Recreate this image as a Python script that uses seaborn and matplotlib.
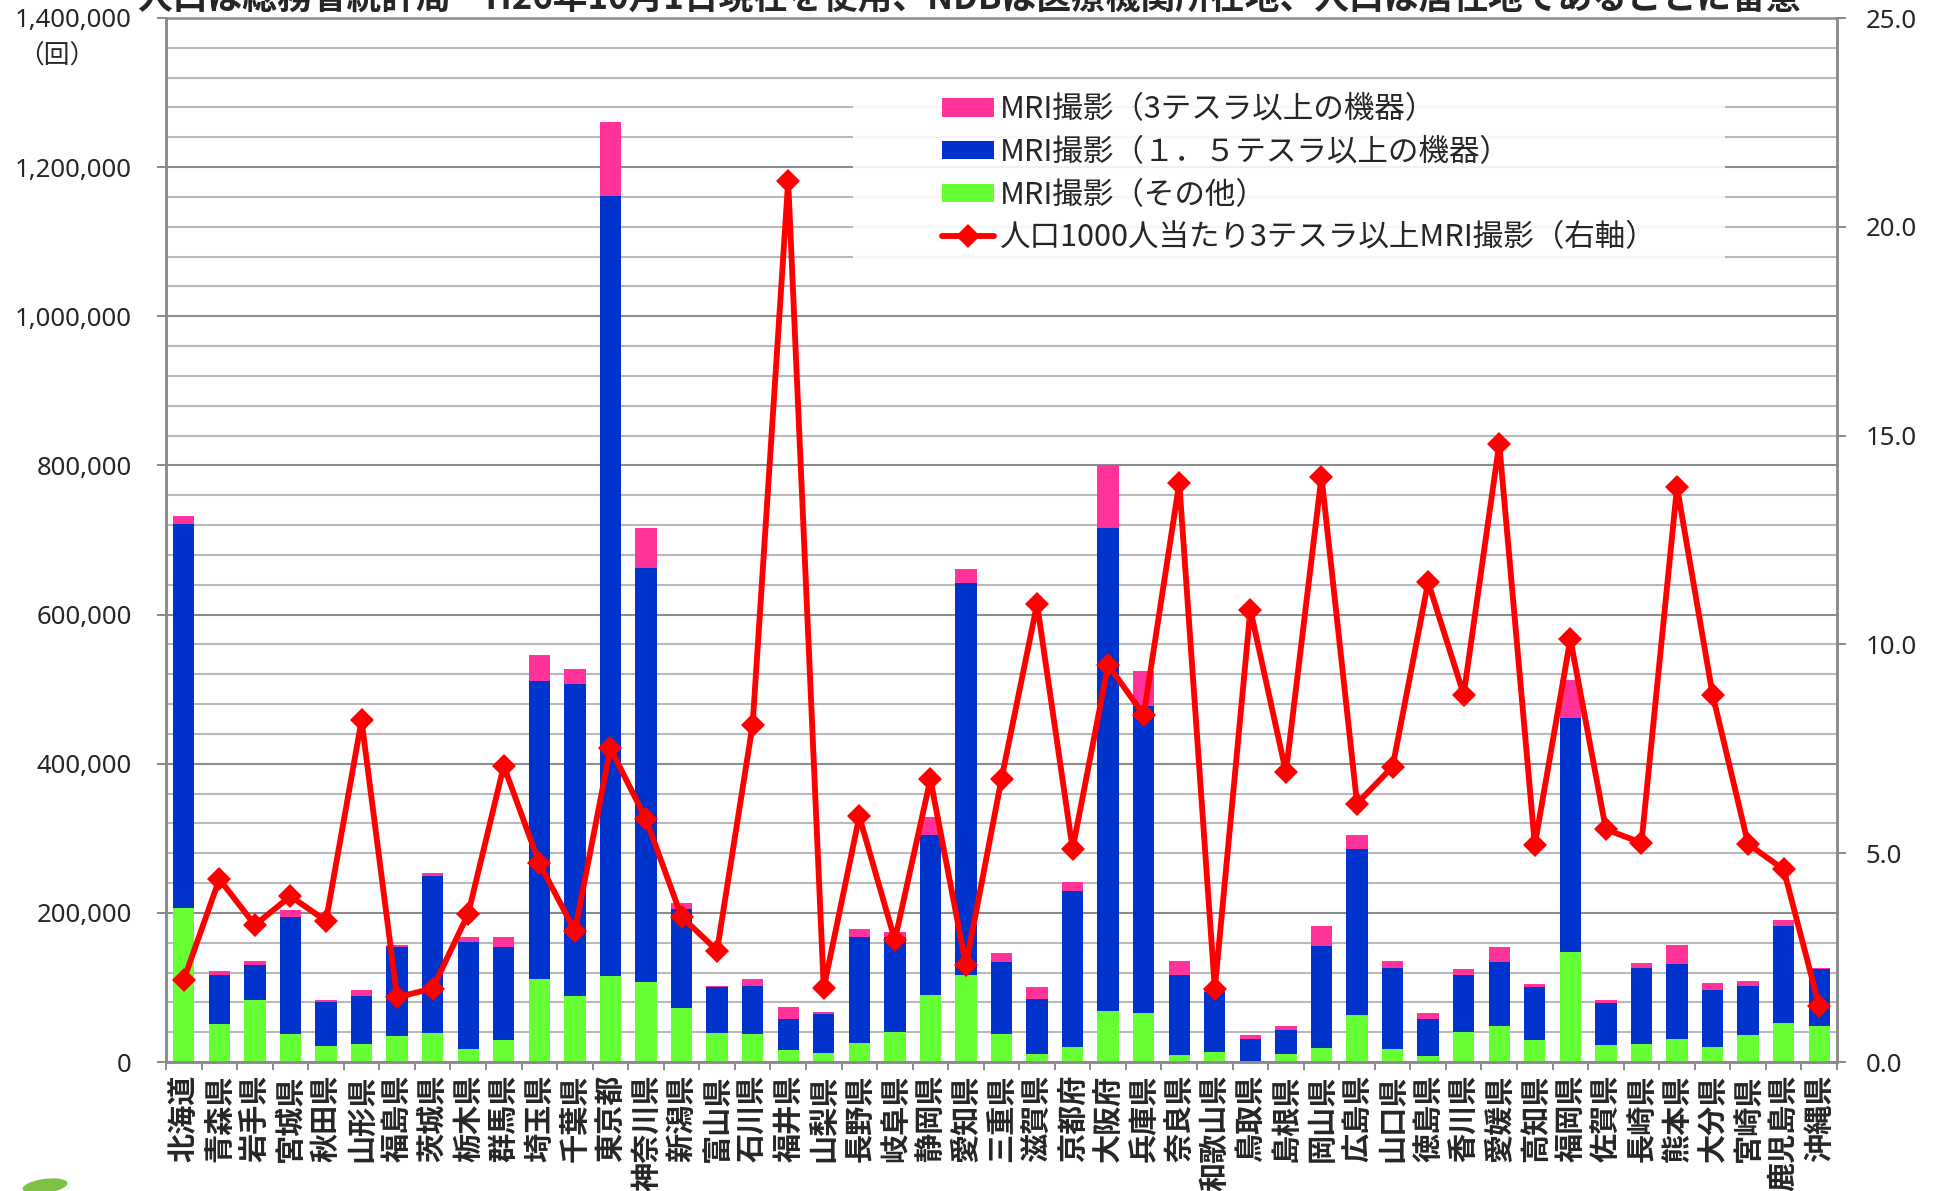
import numpy as np
import pandas as pd
import matplotlib
matplotlib.use("Agg")
import matplotlib.pyplot as plt
import seaborn as sns
from matplotlib.ticker import FuncFormatter, MultipleLocator
from matplotlib.patches import Rectangle, Ellipse, Patch
from matplotlib.lines import Line2D

prefectures = ["北海道", "青森県", "岩手県", "宮城県", "秋田県", "山形県", "福島県", "茨城県",
               "栃木県", "群馬県", "埼玉県", "千葉県", "東京都", "神奈川県", "新潟県", "富山県",
               "石川県", "福井県", "山梨県", "長野県", "岐阜県", "静岡県", "愛知県", "三重県",
               "滋賀県", "京都府", "大阪府", "兵庫県", "奈良県", "和歌山県", "鳥取県", "島根県",
               "岡山県", "広島県", "山口県", "徳島県", "香川県", "愛媛県", "高知県", "福岡県",
               "佐賀県", "長崎県", "熊本県", "大分県", "宮崎県", "鹿児島県", "沖縄県"]

mri_other = [206000, 51000, 83000, 37000, 21000, 24000, 35000, 39000, 18000, 30000,
             111000, 89000, 115000, 107000, 72000, 39000, 38000, 16000, 12000, 25000,
             40000, 90000, 116000, 38000, 11000, 20000, 68000, 66000, 9500, 13600,
             1200, 10600, 19000, 63000, 17000, 7700, 39600, 48000, 29000, 147000,
             23000, 23600, 30700, 20700, 36000, 52000, 48400]

mri_15t = [516000, 65000, 47000, 158000, 59000, 65000, 119000, 210000, 143000, 124000,
           400000, 418000, 1046000, 556000, 133000, 61000, 64000, 41000, 53000, 142000,
           128000, 214000, 527000, 96000, 74000, 209000, 648000, 412000, 107500, 79700,
           29000, 32500, 137000, 223000, 109000, 49600, 76800, 85600, 72000, 314000,
           55600, 102200, 101000, 75600, 66200, 131000, 75700]

mri_3t = [10000, 6000, 5000, 9000, 3000, 8000, 3000, 5000, 7000, 14000,
          35000, 20000, 99000, 53000, 8000, 2500, 9000, 17000, 2500, 12000,
          6000, 24000, 18000, 12000, 16000, 12000, 84000, 47000, 19000, 3000,
          6500, 5300, 27000, 18000, 9500, 8300, 8300, 20700, 3600, 51000,
          4100, 7100, 25500, 10000, 6500, 7100, 1700]

rate_3t_per1000 = [1.97, 4.38, 3.28, 3.97, 3.38, 8.18, 1.55, 1.76, 3.55, 7.09,
                   4.76, 3.14, 7.51, 5.82, 3.48, 2.67, 8.08, 21.1, 1.77, 5.88,
                   2.92, 6.77, 2.32, 6.78, 10.97, 5.10, 9.51, 8.31, 13.87, 1.75,
                   10.83, 6.94, 14.02, 6.19, 7.07, 11.49, 8.80, 14.81, 5.20, 10.13,
                   5.57, 5.25, 13.77, 8.80, 5.22, 4.61, 1.34]

legend_labels = ["MRI撮影（3テスラ以上の機器）", "MRI撮影（１．５テスラ以上の機器）",
                 "MRI撮影（その他）", "人口1000人当たり3テスラ以上MRI撮影（右軸）"]

PINK, BLUE, GREEN, RED = "#FF3399", "#0033CC", "#66FF33", "#FF0000"
GRID_MAJ, GRID_MIN, AXC = "#8c8c8c", "#b9b9b9", "#8a8a8a"

df = pd.DataFrame({"pref": prefectures, "other": mri_other, "t15": mri_15t, "t3": mri_3t})
df["mid"] = df["other"] + df["t15"]
df["total"] = df["mid"] + df["t3"]

sns.set_theme(style="white")
plt.rcParams["font.family"] = ["Noto Sans CJK JP", "DejaVu Sans"]

W, H = 1939, 1191
fig = plt.figure(figsize=(W / 100, H / 100), dpi=100)
L, R, T, B = 166, 1837, 18, 1062
ax = fig.add_axes([L / W, 1 - B / H, (R - L) / W, (B - T) / H])

for col, c in [("total", PINK), ("mid", BLUE), ("other", GREEN)]:
    sns.barplot(data=df, x="pref", y=col, color=c, saturation=1, width=0.6,
                errorbar=None, linewidth=0, ax=ax, zorder=2)

ax.set_xlim(-0.5, len(prefectures) - 0.5)
ax.set_ylim(0, 1400000)
ax.set_xlabel("")
ax.set_ylabel("")
ax.yaxis.set_major_locator(MultipleLocator(200000))
ax.yaxis.set_minor_locator(MultipleLocator(40000))
ax.yaxis.set_major_formatter(FuncFormatter(lambda v, p: f"{int(v):,}"))
ax.set_axisbelow(True)
ax.grid(which="minor", axis="y", color=GRID_MIN, lw=1.5, zorder=0)
ax.grid(which="major", axis="y", color=GRID_MAJ, lw=1.5, zorder=0)
ax.grid(False, axis="x")
ax.tick_params(axis="y", which="minor", length=0)
ax.tick_params(axis="y", which="major", length=6.5, width=1.4, color=AXC,
               direction="out", pad=18, labelsize=18.5, left=True)
for t in ax.get_yticklabels():
    t.set_fontfamily("Noto Sans")

# x ticks: marks at boundaries, labels at centres
ax.set_xticks(np.arange(-0.5, len(prefectures), 1))
ax.set_xticks(np.arange(len(prefectures)), minor=True)
ax.set_xticklabels(prefectures, minor=True, rotation=90, fontsize=21, fontweight="bold")
ax.tick_params(axis="x", which="major", length=6, width=1.4, color=AXC,
               direction="out", labelbottom=False, bottom=True)
ax.tick_params(axis="x", which="minor", length=0, pad=9)

for s in ["left", "right", "bottom"]:
    ax.spines[s].set_color(AXC)
    ax.spines[s].set_linewidth(1.8)
ax.spines["top"].set_color(GRID_MAJ)
ax.spines["top"].set_linewidth(1.8)

# legend backdrop
ax.add_patch(Rectangle((0.411, 0.7586), 0.522, 0.180, transform=ax.transAxes,
                       facecolor="white", alpha=0.88, edgecolor="none", zorder=1.5))

ax2 = ax.twinx()
sns.lineplot(x=np.arange(len(prefectures)), y=rate_3t_per1000, ax=ax2, color=RED,
             linewidth=4.2, marker="D", markersize=12, markeredgecolor=RED,
             markeredgewidth=0, legend=False)
ax2.set_ylim(0, 25)
ax2.yaxis.set_major_locator(MultipleLocator(5))
ax2.yaxis.set_major_formatter(FuncFormatter(lambda v, p: f"{v:.1f}"))
ax2.tick_params(axis="y", length=6.5, width=1.4, color=AXC, direction="out",
                pad=14, labelsize=18.5, right=True)
for t in ax2.get_yticklabels():
    t.set_fontfamily("Noto Sans")
ax2.grid(False)
for s in ["left", "right", "bottom"]:
    ax2.spines[s].set_color(AXC)
    ax2.spines[s].set_linewidth(1.8)
ax2.spines["top"].set_visible(False)

handles = [Patch(facecolor=PINK, edgecolor="none"),
           Patch(facecolor=BLUE, edgecolor="none"),
           Patch(facecolor=GREEN, edgecolor="none"),
           Line2D([], [], color=RED, lw=4.2, marker="D", markersize=12, markeredgewidth=0)]
ax2.legend(handles, legend_labels, loc="upper left", bbox_to_anchor=(0.4644, 0.9268),
           frameon=False, fontsize=22, borderpad=0, borderaxespad=0, labelspacing=0.38,
           handlelength=1.7, handleheight=0.55, handletextpad=0.2)

fig.text(57 / W, 1 - 57 / H, "（回）", ha="center", va="center", fontsize=18.5)
fig.text(0.5, 1 - 17 / H,
         "人口は総務省統計局　H26年10月1日現在を使用、NDBは医療機関所在地、人口は居住地であることに留意",
         ha="center", va="bottom", fontsize=25, fontweight="bold")
fig.add_artist(Ellipse((45 / W, 1 - 1186 / H), 46 / W, 14 / H, angle=15,
                       transform=fig.transFigure, facecolor="#7dc242", edgecolor="none"))

fig.savefig("out.png", dpi=100)
